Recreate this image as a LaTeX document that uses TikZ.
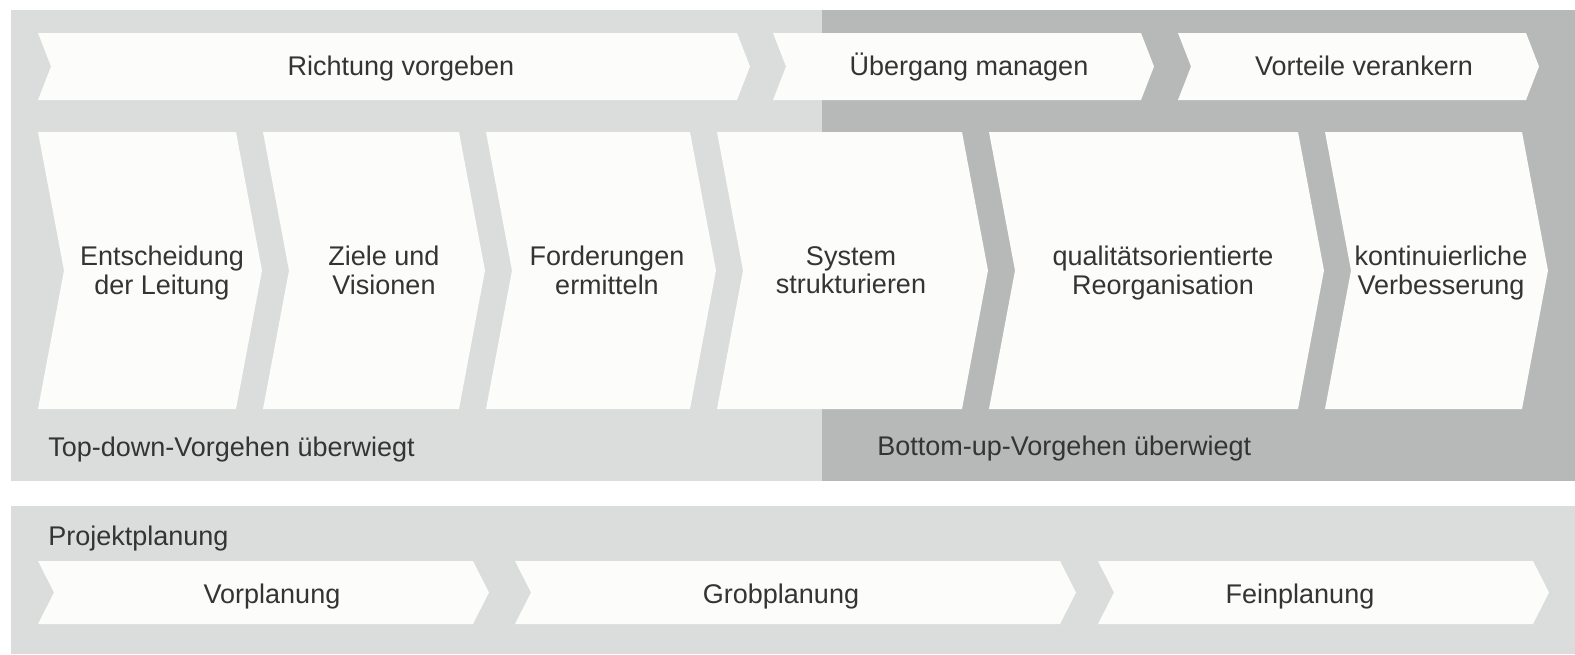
\documentclass[tikz,border=0pt]{standalone}
\usepackage{fontspec}
\setmainfont{Liberation Sans}
\usetikzlibrary{positioning}
\definecolor{panelgray}{RGB}{218,221,220}
\definecolor{darkpanel}{RGB}{182,185,184}
\definecolor{chevwhite}{RGB}{252,252,250}
\definecolor{textgray}{RGB}{52,52,52}
\newcommand{\phstrut}{\rule[-0.3em]{0pt}{1.3em}}
\tikzstyle{panel} = [fill=panelgray]
\tikzstyle{chev} = [fill=chevwhite]
\tikzstyle{phase} = [text=textgray, inner sep=0pt, align=center, font=\fontsize{13.5}{14.3}\selectfont,
    execute at begin node=\phstrut, execute at end node=\phstrut]

\begin{document}
\begin{tikzpicture}[x=0.5pt, y=-0.5pt]
        \useasboundingbox (0,0) rectangle (1575,654);
        % background panels
        \fill[panel] (11,10) rectangle (1575,481);
        \fill[darkpanel] (822,10) rectangle (1575,481);
        \fill[panel] (11,506) rectangle (1575,654);

        % upper band
        \foreach \xl/\xr in {38/737, 773/1141, 1178/1526}
            \fill[chev] (\xl,33) -- (\xr,33) -- (\xr+13,66.5) -- (\xr,100) -- (\xl,100) -- (\xl+13,66.5) -- cycle;
        % steps
        \foreach \xl/\xr in {38/236, 263/459, 486/690, 717/962, 989/1298, 1325/1522}
            \fill[chev] (\xl,132) -- (\xr,132) -- (\xr+26,270.5) -- (\xr,409) -- (\xl,409) -- (\xl+26,270.5) -- cycle;
        % planning band
        \foreach \xl/\xr in {38/473, 515/1060, 1098/1533}
            \fill[chev] (\xl,561) -- (\xr,561) -- (\xr+16,592.5) -- (\xr,624) -- (\xl,624) -- (\xl+16,592.5) -- cycle;

        \node (richtung) [phase] at (401,66.4) {Richtung vorgeben};
        \node (uebergang) [phase] at (969,66.4) {Übergang managen};
        \node (vorteile) [phase] at (1364,66.4) {Vorteile verankern};

        \node (entscheidung) [phase] at (162,274) {Entscheidung\\der Leitung};
        \node (ziele) [phase] at (384,274) {Ziele und\\Visionen};
        \node (forderungen) [phase] at (607,274) {Forderungen\\ermitteln};
        \node (system) [phase] at (851,274) {System\\strukturieren};
        \node (reorg) [phase] at (1163,274) {qualitätsorientierte\\Reorganisation};
        \node (verbesserung) [phase] at (1441,274) {kontinuierliche\\Verbesserung};

        \node (topdown) [phase, anchor=west] at (48,447) {Top-down-Vorgehen überwiegt};
        \node (bottomup) [phase, anchor=west] at (877,446) {Bottom-up-Vorgehen überwiegt};

        \node (projekt) [phase, anchor=west] at (48,536.5) {Projektplanung};
        \node (vorplanung) [phase] at (272,594) {Vorplanung};
        \node (grobplanung) [phase] at (781,594) {Grobplanung};
        \node (feinplanung) [phase] at (1300,594) {Feinplanung};

    \end{tikzpicture}
\end{document}
